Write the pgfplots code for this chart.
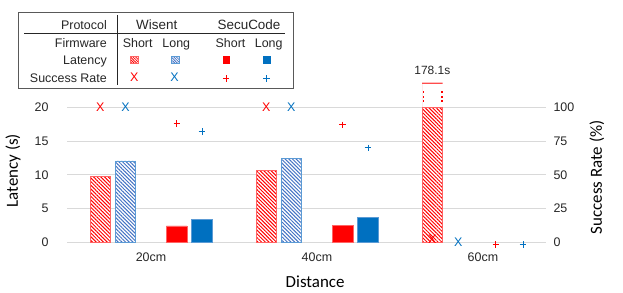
\documentclass[border=0pt]{standalone}
\usepackage{fontspec}
\setmainfont{Liberation Sans}
\newfontfamily\carlito{Carlito}
\usepackage{pgfplots}
\pgfplotsset{compat=1.18}
\usetikzlibrary{patterns.meta}
\definecolor{xred}{RGB}{255,0,0}
\definecolor{xblue}{RGB}{0,112,192}
\definecolor{hblue}{RGB}{68,114,196}
\definecolor{lblue}{RGB}{91,155,213}
\definecolor{lred}{RGB}{255,100,100}
\definecolor{gridgray}{RGB}{217,217,217}
\pgfplotsset{
 base/.style={scale only axis, width=479bp, height=135bp, at={(67bp,-242.3bp)}, anchor=south west,
   xmin=0.494, xmax=3.380, axis line style={draw=none}, major tick length=0pt, clip=false,
   tick label style={font=\fontsize{12.5}{14}\selectfont, text=black!85},
   /pgf/number format/assume math mode=true},
 hatchred/.style={ybar, bar width=20.5bp, bar shift=0pt, draw=lred, line width=0.8pt, preaction={fill=white},
   pattern={Lines[angle=-45,distance=2.6bp,line width=1bp]}, pattern color=xred},
 hatchblue/.style={ybar, bar width=20.5bp, bar shift=0pt, draw=lblue, line width=0.8pt, preaction={fill=white},
   pattern={Lines[angle=-45,distance=2.6bp,line width=1bp]}, pattern color=hblue},
}
\begin{document}
\begin{tikzpicture}
\path[use as bounding box] (0,0) rectangle (623bp,-293bp);
% ---------- latency axis ----------
\begin{axis}[base, ymin=0, ymax=20, ytick={0,5,10,15,20},
  ymajorgrids, grid style={gridgray, line width=0.8pt},
  xtick={1,2,3}, xticklabels={20cm,40cm,60cm},
  xticklabel style={yshift=-7bp}, yticklabel style={xshift=-15bp},
  ylabel={Latency (s)}, ylabel style={at={(axis description cs:-0.1127,0.53)}, anchor=center, font=\carlito\fontsize{17}{20}\selectfont},
  xlabel={Distance}, xlabel style={at={(axis description cs:0.518,-0.294)}, anchor=center, font=\carlito\fontsize{17}{20}\selectfont}]
\addplot[hatchred, restrict y to domain*=0:20] coordinates {(0.695,9.7) (1.695,10.6) (2.695,178.1)};
\addplot[hatchblue] coordinates {(0.846,12.06) (1.846,12.47)};
\addplot[ybar, bar width=20.5bp, bar shift=0pt, fill=xred, draw=lred, line width=0.8pt] coordinates {(1.155,2.42) (2.155,2.52)};
\addplot[ybar, bar width=20.5bp, bar shift=0pt, fill=xblue, draw=lblue, line width=0.8pt] coordinates {(1.307,3.41) (2.307,3.64)};
\end{axis}
% ---------- success-rate axis ----------
\begin{axis}[base, ymin=0, ymax=100, ytick={0,25,50,75,100}, axis y line*=right, hide x axis,
  yticklabel style={xshift=4bp, anchor=west},
  ylabel={Success Rate (\%)}, ylabel style={at={(axis description cs:1.106,0.48)}, anchor=center, rotate=0, font=\carlito\fontsize{17}{20}\selectfont}]
% broken-bar annotation (the 178.1 s bar is cut at 20 s)
\addplot[fill=xred!70, draw=none, mark=none] coordinates {(2.633,117.4) (2.757,117.4) (2.757,118.3) (2.633,118.3)} \closedcycle;
\addplot[only marks, mark=square*, mark size=0.42bp, color=xred, mark options={draw=none, fill=xred}] coordinates {(2.640,104.7) (2.640,108) (2.640,111.3) (2.751,104.7) (2.751,108) (2.751,111.3)};
\node[font=\fontsize{12}{14}\selectfont, text=black!85] at (axis cs:2.695,127.5) {178.1s};
\addplot[xred, only marks, mark=text, text mark={\fontsize{12.5}{12}\selectfont\color{xred}X}] coordinates {(0.695,100) (1.695,100) (2.695,2.5)};
\addplot[xblue, only marks, mark=text, text mark={\fontsize{12.5}{12}\selectfont\color{xblue}X}] coordinates {(0.846,100) (1.846,100) (2.852,0)};
\addplot[xred, only marks, mark=+, mark size=3.2bp, mark options={line width=0.8pt}] coordinates {(1.155,88) (2.155,87) (3.078,-1.5)};
\addplot[xblue, only marks, mark=+, mark size=3.2bp, mark options={line width=0.8pt}] coordinates {(1.307,82) (2.307,70) (3.241,-1.5)};
\end{axis}
% ---------- legend table ----------
\draw[black!65, line width=0.9pt] (18.3bp,-12.7bp) rectangle (293bp,-88.3bp);
\draw[black!85, line width=0.7pt] (24bp,-33.3bp) -- (285bp,-33.3bp);
\draw[black!85, line width=0.7pt] (117.7bp,-15bp) -- (117.7bp,-85bp);
\begin{scope}[every node/.style={font=\fontsize{12.5}{14}\selectfont, text=black!85, inner sep=0pt}]
\node[anchor=base east] at (107bp,-29.5bp) {Protocol};
\node[anchor=base east] at (107bp,-47.2bp) {Firmware};
\node[anchor=base east] at (107bp,-64.5bp) {Latency};
\node[anchor=base east] at (107bp,-82.2bp) {Success Rate};
\node[anchor=base, font=\fontsize{13.5}{14}\selectfont] at (156.7bp,-29.7bp) {Wisent};
\node[anchor=base, font=\fontsize{13.5}{14}\selectfont] at (249bp,-29.7bp) {SecuCode};
\node[anchor=base] at (137.7bp,-47.2bp) {Short};
\node[anchor=base] at (176.3bp,-47.2bp) {Long};
\node[anchor=base] at (230.5bp,-47.2bp) {Short};
\node[anchor=base] at (268.7bp,-47.2bp) {Long};
\node[anchor=center, text=xred] at (134.3bp,-77.7bp) {X};
\node[anchor=center, text=xblue] at (174.5bp,-77.7bp) {X};
\end{scope}
\draw[lred, line width=0.6pt, pattern={Lines[angle=-45,distance=1.8bp,line width=0.8bp]}, pattern color=xred] (130.3bp,-56.6bp) rectangle (138.3bp,-63.4bp);
\draw[lblue, line width=0.6pt, pattern={Lines[angle=-45,distance=1.8bp,line width=0.8bp]}, pattern color=hblue] (171bp,-56.6bp) rectangle (179bp,-63.4bp);
\fill[xred] (222.7bp,-56.3bp) rectangle (230bp,-63.6bp);
\fill[xblue] (263.3bp,-56.3bp) rectangle (270.7bp,-63.6bp);
\draw[xred, line width=0.8pt] (222.8bp,-78.5bp) -- (229.4bp,-78.5bp) (226.1bp,-75.2bp) -- (226.1bp,-81.8bp);
\draw[xblue, line width=0.8pt] (263.4bp,-78.5bp) -- (270bp,-78.5bp) (266.7bp,-75.2bp) -- (266.7bp,-81.8bp);
\end{tikzpicture}
\end{document}
